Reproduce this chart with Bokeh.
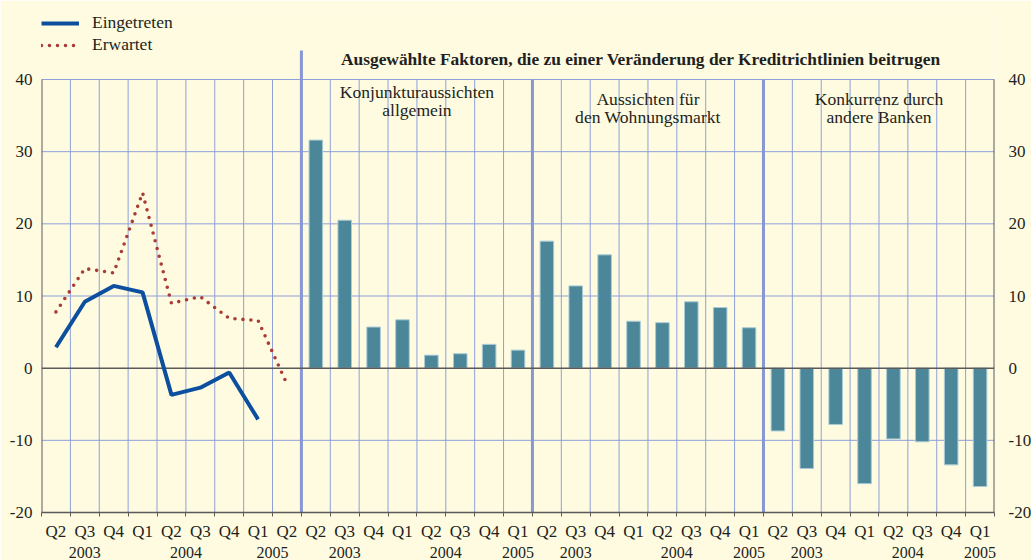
from bokeh.plotting import figure
from bokeh.models import FixedTicker, LinearAxis, Range1d, Label
from bokeh.embed import file_html
from bokeh.resources import INLINE

# ---------------- data ----------------
quarters_left = ["Q2", "Q3", "Q4", "Q1", "Q2", "Q3", "Q4", "Q1", "Q2"]
years_left = ["2003", "2004", "2005"]
quarters_panel = ["Q2", "Q3", "Q4", "Q1", "Q2", "Q3", "Q4", "Q1"]
years_panel = ["2003", "2004", "2005"]

eingetreten = [2.9, 9.2, 11.4, 10.5, -3.7, -2.7, -0.6, -7.1]
erwartet = [7.8, 13.8, 13.2, 24.3, 9.0, 9.9, 6.9, 6.6, -2.2]

panel_titles = [["Konjunkturaussichten", "allgemein"],
                ["Aussichten für", "den Wohnungsmarkt"],
                ["Konkurrenz durch", "andere Banken"]]
konjunktur = [31.6, 20.5, 5.7, 6.7, 1.8, 2.0, 3.3, 2.5]
wohnungsmarkt = [17.6, 11.4, 15.7, 6.5, 6.3, 9.2, 8.4, 5.6]
konkurrenz = [-8.7, -13.9, -7.8, -16.0, -9.8, -10.2, -13.4, -16.4]

y_ticks = [-20, -10, 0, 10, 20, 30, 40]
y_tick_labels = ["-20", "-10", "0", "10", "20", "30", "40"]
chart_title = "Ausgewählte Faktoren, die zu einer Veränderung der Kreditrichtlinien beitrugen"

# ---------------- style ----------------
BG = "#FEFBE1"
GRID = "#8FA0DA"
SEP = "#8797D4"
AXIS = "#5A5A5A"
TXT = "#231F20"
BLUE = "#0B4F9E"
RED = "#A93C36"
BAR = "#4B8799"
FONT = "Liberation Serif"

panels = [konjunktur, wohnungsmarkt, konkurrenz]
n_left = len(quarters_left)
n_panel = len(quarters_panel)
n_total = n_left + n_panel * len(panels)
panel_start = [n_left + k * n_panel for k in range(len(panels))]

FRAME_W, FRAME_H = 953, 500
y_min, y_max = min(y_ticks), max(y_ticks)
ppu = 433 / (y_max - y_min)              # pixels per unit between -20 and 40
y_top = y_max + 67 / ppu                 # frame reaches up to the legend
TOP_PX = 79                              # pixel row of y_max


def y_at(px):
    return y_max + (TOP_PX - px) / ppu


def centers(start, n):
    return [start + i + 0.5 for i in range(n)]


def year_centers(quarters, start):
    groups = []
    for i, q in enumerate(quarters):
        if i == 0 or q == "Q1":
            groups.append([])
        groups[-1].append(start + i + 0.5)
    return [sum(g) / len(g) for g in groups]


p = figure(frame_width=FRAME_W, frame_height=FRAME_H,
           x_range=Range1d(0, n_total), y_range=Range1d(y_min, y_top),
           output_backend="svg", toolbar_location=None, title=None,
           min_border_left=41, min_border_right=37, min_border_top=12, min_border_bottom=48,
           background_fill_color=BG, border_fill_color=BG, outline_line_color=None)
p.xgrid.visible = False
p.ygrid.visible = False

# grid lines
bounds = list(range(1, n_total))
seps = [n_left] + panel_start[1:]
normal = [b for b in bounds if b not in seps]
p.segment(x0=normal, y0=[y_min] * len(normal), x1=normal, y1=[y_max] * len(normal),
          line_color=GRID, line_width=1)
hlines = [t for t in y_ticks if t not in (0, y_min)]
p.segment(x0=[0] * len(hlines), y0=hlines, x1=[n_total] * len(hlines), y1=hlines,
          line_color=GRID, line_width=1)
p.segment(x0=[n_left], y0=[y_min], x1=[n_left], y1=[y_at(50)], line_color=SEP, line_width=3)
p.segment(x0=seps[1:], y0=[y_min] * 2, x1=seps[1:], y1=[y_max] * 2, line_color=SEP, line_width=3)

# bars
for start, vals in zip(panel_start, panels):
    p.vbar(x=centers(start, n_panel), top=vals, bottom=0, width=0.47,
           fill_color=BAR, line_color="#A9CBD6", line_width=1)

# zero line and side axis lines
p.segment(x0=[0], y0=[0], x1=[n_total], y1=[0], line_color=AXIS, line_width=1.5)
p.segment(x0=[0, n_total], y0=[y_min, y_min], x1=[0, n_total], y1=[y_max, y_max],
          line_color=AXIS, line_width=2)

# lines
lx = centers(0, n_left)
p.line(x=lx[:len(eingetreten)], y=eingetreten, line_color=BLUE, line_width=4,
       legend_label="Eingetreten")
p.line(x=lx[:len(erwartet)], y=erwartet, line_color=RED, line_width=3.6, line_dash="0 8",
       line_cap="round", legend_label="Erwartet")

# y axes
p.yaxis.ticker = FixedTicker(ticks=y_ticks)
right = LinearAxis(ticker=FixedTicker(ticks=y_ticks))
p.add_layout(right, "right")
for ax, st in [(p.yaxis[0], 9), (right, 14)]:
    ax.major_label_overrides = {t: s for t, s in zip(y_ticks, y_tick_labels)}
    ax.axis_line_color = None
    ax.major_tick_line_color = None
    ax.minor_tick_line_color = None
    ax.major_tick_out = 0
    ax.major_tick_in = 0
    ax.minor_tick_out = 0
    ax.major_label_standoff = st
    ax.major_label_text_font = FONT
    ax.major_label_text_font_size = "17px"
    ax.major_label_text_color = TXT

# x axis: quarters
all_q = quarters_left + quarters_panel * len(panels)
qx = centers(0, n_total)
xa = p.xaxis[0]
xa.ticker = FixedTicker(ticks=qx, minor_ticks=list(range(0, n_total + 1)))
xa.major_label_overrides = {x: q for x, q in zip(qx, all_q)}
xa.major_tick_line_color = None
xa.major_tick_out = 0
xa.major_tick_in = 0
xa.minor_tick_line_color = AXIS
xa.minor_tick_out = 4
xa.minor_tick_in = 0
xa.axis_line_color = AXIS
xa.axis_line_width = 1.5
xa.major_label_standoff = 5
xa.major_label_text_font = FONT
xa.major_label_text_font_size = "17px"
xa.major_label_text_color = TXT

# x axis: years (second row)
year_x, year_t = list(year_centers(quarters_left, 0)), list(years_left)
for start in panel_start:
    year_x += year_centers(quarters_panel, start)
    year_t += years_panel
ya = LinearAxis(ticker=FixedTicker(ticks=year_x))
ya.major_label_overrides = {x: t for x, t in zip(year_x, year_t)}
ya.axis_line_color = None
ya.major_tick_line_color = None
ya.minor_tick_line_color = None
ya.major_tick_out = 0
ya.major_tick_in = 0
ya.minor_tick_out = 0
ya.major_label_standoff = 3
ya.major_label_text_font = FONT
ya.major_label_text_font_size = "16px"
ya.major_label_text_color = TXT
p.add_layout(ya, "below")

# title
p.add_layout(Label(x=(640.5 - 41) / (FRAME_W / n_total), y=y_at(58), text=chart_title,
                   text_align="center", text_baseline="middle", text_font=FONT,
                   text_font_style="bold", text_font_size="17.4px", text_color=TXT))

# panel titles
line_rows = [[91.5, 109.5], [98.0, 116.2], [98.0, 116.2]]
for start, lines, rows in zip(panel_start, panel_titles, line_rows):
    for t, row in zip(lines, rows):
        p.add_layout(Label(x=start + n_panel / 2, y=y_at(row), text=t,
                           text_align="center", text_baseline="middle", text_font=FONT,
                           text_font_size="17.6px", text_color=TXT))

# legend
lg = p.legend[0]
lg.location = "top_left"
lg.background_fill_alpha = 0
lg.border_line_alpha = 0
lg.padding = 0
lg.margin = 0
lg.spacing = 1
lg.glyph_width = 38
lg.glyph_height = 20
lg.label_height = 20
lg.label_standoff = 13
lg.label_text_font = FONT
lg.label_text_font_size = "17.5px"
lg.label_text_color = TXT

open("out.html", "w").write(file_html(p, INLINE))
